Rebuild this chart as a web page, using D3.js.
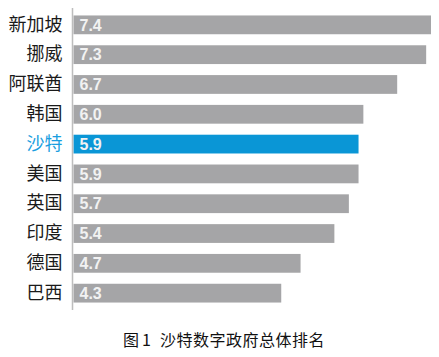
<!DOCTYPE html>
<html><head><meta charset="utf-8">
<script src="https://cdn.jsdelivr.net/npm/d3@7"></script>
<style>body{margin:0;background:#fff}svg{display:block}</style>
</head><body>
<script>
const categories = ["新加坡","挪威","阿联酋","韩国","沙特","美国","英国","印度","德国","巴西"];
const values = [7.4,7.3,6.7,6.0,5.9,5.9,5.7,5.4,4.7,4.3];
const highlight = "沙特";
const captionParts = ["图","1","沙特数字政府总体排名"];

const W=439,H=357;
const svg=d3.select("body").append("svg").attr("width",W).attr("height",H);
const x=d3.scaleLinear().domain([0,7.4]).range([73.5,431]);
const y=d3.scaleBand().domain(categories).range([9.5,308.5]).paddingInner(0.37).paddingOuter(0.2);

svg.selectAll("rect.bar").data(categories).join("rect")
  .attr("x",x(0)).attr("y",d=>y(d)).attr("height",y.bandwidth())
  .attr("width",(d,i)=>x(values[i])-x(0))
  .attr("fill",d=>d===highlight?"#0a96d6":"#a5a5a7");

svg.selectAll("text.val").data(categories).join("text")
  .attr("x",x(0)+6).attr("y",d=>y(d)+y.bandwidth()/2)
  .attr("dy","0.36em")
  .attr("font-family","Liberation Sans, Arial, sans-serif").attr("font-weight","bold")
  .attr("font-size",16).attr("fill","#f2f2f2")
  .text((d,i)=>values[i].toFixed(1));

const axis=d3.axisLeft(y).tickSize(0).tickPadding(10);
const g=svg.append("g").attr("transform",`translate(${72.5},0)`).call(axis);
g.select(".domain").attr("stroke","#bdbdbd").attr("stroke-width",1.5).attr("d","M0,8V310");
g.selectAll(".tick text").attr("font-family","Noto Sans CJK SC").attr("font-size",18)
  .attr("fill",d=>d===highlight?"#1a9ee0":"#1a1a1a");

const capX=[123,142,160];
svg.selectAll("text.cap").data(captionParts).join("text")
  .attr("x",(d,i)=>capX[i]).attr("y",346)
  .attr("font-family","Noto Sans CJK SC").attr("font-size",16).attr("fill","#111")
  .attr("letter-spacing",(d,i)=>i===2?0.5:0)
  .text(d=>d);
</script>
</body></html>
